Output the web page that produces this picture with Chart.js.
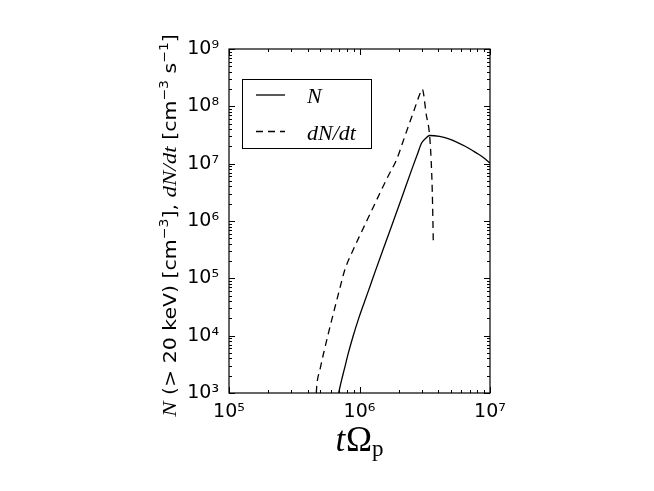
<!DOCTYPE html>
<html>
<head>
<meta charset="utf-8">
<script src="https://cdn.jsdelivr.net/npm/chart.js@4/dist/chart.umd.min.js"></script>
<style>
  html, body { margin: 0; padding: 0; background: #fff; }
  canvas { display: block; }
</style>
</head>
<body>
<canvas id="c" width="654" height="491"></canvas>
<script>
// ---- data ----
const tN = [6.92e5, 7.28e5, 7.66e5, 8.20e5, 8.93e5, 9.86e5, 1.096e6, 1.208e6, 1.324e6, 1.521e6, 1.754e6, 2.094e6, 2.553e6, 2.793e6, 2.992e6, 3.214e6, 3.443e6, 4.111e6, 4.898e6, 6.501e6, 7.889e6, 8.770e6, 1.0e7];
const valuesN = [1e3, 1.66e3, 2.63e3, 4.90e3, 9.77e3, 2.0e4, 3.98e4, 7.41e4, 1.35e5, 3.24e5, 7.94e5, 2.45e6, 8.71e6, 1.51e7, 2.29e7, 2.75e7, 3.10e7, 2.98e7, 2.69e7, 1.99e7, 1.53e7, 1.31e7, 1.03e7];

const tDNdt = [4.667e5, 4.71e5, 4.97e5, 5.33e5, 5.69e5, 6.14e5, 6.67e5, 7.19e5, 7.71e5, 8.93e5, 1.040e6, 1.219e6, 1.429e6, 1.660e6, 1.919e6, 2.123e6, 2.350e6, 2.624e6, 2.924e6, 3.027e6, 3.251e6, 3.443e6, 3.540e6, 3.614e6, 3.681e6];
const valuesDNdt = [1e3, 1.38e3, 2.52e3, 5.14e3, 9.55e3, 1.92e4, 4.02e4, 7.78e4, 1.40e5, 3.12e5, 6.56e5, 1.406e6, 3.02e6, 6.10e6, 1.159e7, 2.203e7, 4.276e7, 8.63e7, 1.71e8, 1.99e8, 7.06e7, 3.16e7, 1.159e7, 3.08e6, 3.81e5];

const seriesLabels = ['N', 'dN/dt'];

const xTickValues = [1e5, 1e6, 1e7];
const xTickLabels = ['10\u2075', '10\u2076', '10\u2077'];
const yTickValues = [1e3, 1e4, 1e5, 1e6, 1e7, 1e8, 1e9];
const yTickLabels = ['10\u00B3', '10\u2074', '10\u2075', '10\u2076', '10\u2077', '10\u2078', '10\u2079'];

const xTitle = ['t', '\u03A9', 'p'];
const yTitleParts = [
  ['N', 'mathit'], [' (> 20 keV) [cm', 'sans'], ['\u22123', 'sup'], ['], ', 'sans'],
  ['dN/dt', 'mathit'], [' [cm', 'sans'], ['\u22123', 'sup'], [' s', 'sans'], ['\u22121', 'sup'], [']', 'sans']
];

// ---- helpers ----
const toXY = (xs, ys) => xs.map((x, i) => ({ x: x, y: ys[i] }));

const tickFont = { family: 'DejaVu Sans', size: 19 };

const framePlugin = {
  id: 'frame',
  afterDatasetsDraw(chart) {
    const ctx = chart.ctx, a = chart.chartArea;
    const xs = chart.scales.x, ys = chart.scales.y;
    ctx.save();
    ctx.strokeStyle = '#000';
    ctx.lineWidth = 1;
    ctx.beginPath();
    for (let e = 5; e <= 7; e++) {
      for (let m = 1; m <= 9; m++) {
        if (e === 7 && m > 1) break;
        const v = m * Math.pow(10, e);
        const p = Math.round(xs.getPixelForValue(v)) + 0.5;
        const len = m === 1 ? 6 : 3;
        ctx.moveTo(p, a.bottom); ctx.lineTo(p, a.bottom - len);
        ctx.moveTo(p, a.top); ctx.lineTo(p, a.top + len);
      }
    }
    for (let e = 3; e <= 9; e++) {
      for (let m = 1; m <= 9; m++) {
        if (e === 9 && m > 1) break;
        const v = m * Math.pow(10, e);
        const p = Math.round(ys.getPixelForValue(v)) + 0.5;
        const len = m === 1 ? 6 : 3;
        ctx.moveTo(a.left, p); ctx.lineTo(a.left + len, p);
        ctx.moveTo(a.right, p); ctx.lineTo(a.right - len, p);
      }
    }
    ctx.stroke();
    ctx.lineWidth = 1.2;
    ctx.strokeRect(a.left, a.top, a.right - a.left, a.bottom - a.top);
    ctx.restore();
  },
  afterDraw(chart) {
    const ctx = chart.ctx, a = chart.chartArea;
    ctx.save();
    // ---- legend ----
    const lx = 242, ly = 79, lw = 129, lh = 69;
    ctx.fillStyle = '#fff';
    ctx.fillRect(lx, ly, lw, lh);
    ctx.strokeStyle = '#000';
    ctx.lineWidth = 1;
    ctx.strokeRect(lx + 0.5, ly + 0.5, lw, lh);
    const rows = [95, 131.5];
    chart.data.datasets.forEach((ds, i) => {
      ctx.save();
      ctx.strokeStyle = ds.borderColor;
      ctx.lineWidth = ds.borderWidth;
      ctx.setLineDash(ds.borderDash || []);
      ctx.beginPath();
      ctx.moveTo(256, rows[i]); ctx.lineTo(285, rows[i]);
      ctx.stroke();
      ctx.restore();
      ctx.fillStyle = '#000';
      ctx.font = 'italic 22px "Liberation Serif"';
      ctx.textBaseline = 'alphabetic';
      ctx.textAlign = 'left';
      ctx.fillText(ds.label, 307, rows[i] + 8);
    });

    // ---- x title ----
    ctx.fillStyle = '#000';
    const cx = (a.left + a.right) / 2;
    const fT = 'italic 35px "Liberation Serif"', fO = '35px "Liberation Serif"', fP = '23px "Liberation Serif"';
    ctx.font = fT; const w1 = ctx.measureText(xTitle[0]).width;
    ctx.font = fO; const w2 = ctx.measureText(xTitle[1]).width;
    ctx.font = fP; const w3 = ctx.measureText(xTitle[2]).width;
    let sx = cx - (w1 + w2 + w3 + 1) / 2;
    const by = 451;
    ctx.textAlign = 'left'; ctx.textBaseline = 'alphabetic';
    ctx.font = fT; ctx.fillText(xTitle[0], sx, by); sx += w1 + 1;
    ctx.font = fO; ctx.fillText(xTitle[1], sx, by); sx += w2;
    ctx.font = fP; ctx.fillText(xTitle[2], sx, by + 5);

    // ---- y title ----
    const fonts = { mathit: 'italic 23px "Liberation Serif"', sans: '20.5px "DejaVu Sans"', sup: '14px "DejaVu Sans"' };
    let total = 0;
    const widths = yTitleParts.map(p => { ctx.font = fonts[p[1]]; const w = ctx.measureText(p[0]).width; total += w; return w; });
    ctx.save();
    ctx.translate(175.5, 225.5);
    ctx.rotate(-Math.PI / 2);
    ctx.scale(1, 0.86);
    let px = -total / 2;
    yTitleParts.forEach((p, i) => {
      ctx.font = fonts[p[1]];
      ctx.fillText(p[0], px, p[1] === 'sup' ? -9 : 0);
      px += widths[i];
    });
    ctx.restore();
    ctx.restore();
  }
};

new Chart(document.getElementById('c'), {
  type: 'line',
  data: {
    datasets: [
      {
        label: seriesLabels[0],
        data: toXY(tN, valuesN),
        borderColor: '#000', borderWidth: 1.3, pointRadius: 0,
        cubicInterpolationMode: 'monotone', fill: false
      },
      {
        label: seriesLabels[1],
        data: toXY(tDNdt, valuesDNdt),
        borderColor: '#000', borderWidth: 1.3, borderDash: [7, 5], pointRadius: 0,
        cubicInterpolationMode: 'monotone', fill: false
      }
    ]
  },
  options: {
    responsive: false,
    animation: false,
    devicePixelRatio: 1,
    layout: { padding: { top: 49, right: 164, left: 0, bottom: 0 } },
    plugins: { legend: { display: false }, tooltip: { enabled: false }, title: { display: false } },
    scales: {
      x: {
        type: 'logarithmic', min: 1e5, max: 1e7,
        afterBuildTicks: s => { s.ticks = xTickValues.map(v => ({ value: v })); },
        afterFit: s => { s.height = 98; },
        grid: { display: false, drawTicks: false },
        border: { display: false },
        ticks: {
          autoSkip: false, maxRotation: 0, minRotation: 0, padding: 8,
          color: '#000', font: tickFont,
          callback: (v, i) => xTickLabels[i]
        }
      },
      y: {
        type: 'logarithmic', min: 1e3, max: 1e9,
        afterBuildTicks: s => { s.ticks = yTickValues.map(v => ({ value: v })); },
        afterFit: s => { s.width = 229; },
        grid: { display: false, drawTicks: false },
        border: { display: false },
        ticks: {
          autoSkip: false, padding: 10,
          color: '#000', font: tickFont,
          callback: (v, i) => yTickLabels[i]
        }
      }
    }
  },
  plugins: [framePlugin]
});
</script>
</body>
</html>
